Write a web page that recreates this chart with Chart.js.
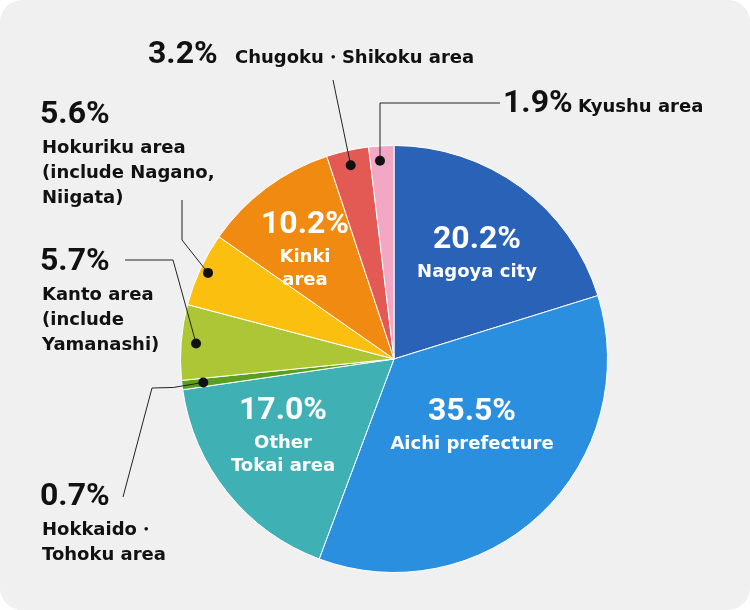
<!DOCTYPE html>
<html>
<head>
<meta charset="utf-8">
<script src="https://cdn.jsdelivr.net/npm/chart.js@4"></script>
<style>
  body { margin: 0; background: #fff; }
  #wrap { width: 750px; height: 610px; background: #f0f0f0; border-radius: 22px; overflow: hidden; }
</style>
</head>
<body>
<div id="wrap"><canvas id="chartPie" width="750" height="610"></canvas></div>
<script>
const areas = ["Nagoya city", "Aichi prefecture", "Other Tokai area", "Hokkaido・Tohoku area",
  "Kanto area", "Hokuriku area", "Kinki area", "Chugoku・Shikoku area", "Kyushu area"];
const shares = [20.2, 35.5, 17.0, 0.7, 5.7, 5.6, 10.2, 3.2, 1.9];
const colors = ["#2a62b8", "#2b8fe0", "#3fb1b5", "#5aa01e", "#adc636", "#fbbf10", "#f08a10", "#e35a55", "#f2a8c4"];

// inside labels: index -> lines, position
const insideLabels = [
  { i: 0, lines: ["Nagoya city"], x: 477, y: 240 },
  { i: 1, lines: ["Aichi prefecture"], x: 472, y: 412 },
  { i: 2, lines: ["Other", "Tokai area"], x: 283, y: 411 },
  { i: 6, lines: ["Kinki", "area"], x: 305, y: 225 },
];
// outside labels with leader lines
const outsideLabels = [
  { i: 7, inline: "Chugoku・Shikoku area", x: 148, y: 55, ix: 235, path: [[333, 80]], rf: 0.93 },
  { i: 8, inline: "Kyushu area", x: 503, y: 104, ix: 578, path: [[500, 103], [380, 103]], rf: 0.93, vert: true },
  { i: 5, lines: ["Hokuriku area", "(include Nagano,", "Niigata)"], x: 40, y: 115, path: [[182, 200], [182, 240]], rf: 0.96 },
  { i: 4, lines: ["Kanto area", "(include", "Yamanashi)"], x: 40, y: 262, path: [[125, 260], [173, 260]], rf: 0.93 },
  { i: 3, lines: ["Hokkaido・", "Tohoku area"], x: 40, y: 497, path: [[123, 497], [152, 388]], rf: 0.9, horiz: true },
];

const PCT_FONT = "700 32px Roboto, sans-serif";
const TXT_FONT = "700 18px 'DejaVu Sans', sans-serif";

const labelPlugin = {
  id: "labels",
  afterDraw(chart) {
    const ctx = chart.ctx;
    const arcs = chart.getDatasetMeta(0).data;
    ctx.save();
    ctx.textBaseline = "middle";
    insideLabels.forEach(l => {
      ctx.fillStyle = "#fff";
      ctx.textAlign = "center";
      ctx.font = PCT_FONT;
      ctx.fillText(shares[l.i].toFixed(1) + "%", l.x, l.y);
      ctx.font = TXT_FONT;
      l.lines.forEach((t, k) => ctx.fillText(t, l.x, l.y + 32 + k * 23));
    });
    outsideLabels.forEach(l => {
      const a = arcs[l.i];
      const mid = (a.startAngle + a.endAngle) / 2;
      let dx = a.x + Math.cos(mid) * a.outerRadius * l.rf;
      let dy = a.y + Math.sin(mid) * a.outerRadius * l.rf;
      const pts = l.path.slice();
      if (l.vert) dx = pts[pts.length - 1][0];
      if (l.horiz) { pts.push([dx - 30, dy + 5]); }
      pts.push([dx, dy]);
      ctx.strokeStyle = "#222";
      ctx.lineWidth = 1;
      ctx.beginPath();
      pts.forEach((p, k) => k ? ctx.lineTo(p[0], p[1]) : ctx.moveTo(p[0], p[1]));
      ctx.stroke();
      ctx.fillStyle = "#111";
      ctx.beginPath();
      ctx.arc(dx, dy, 5, 0, Math.PI * 2);
      ctx.fill();
      ctx.textAlign = "left";
      ctx.font = PCT_FONT;
      ctx.fillText(shares[l.i].toFixed(1) + "%", l.x, l.y);
      ctx.font = TXT_FONT;
      if (l.inline) {
        ctx.fillText(l.inline, l.ix, l.y + 3);
      } else {
        l.lines.forEach((t, k) => ctx.fillText(t, l.x + 2, l.y + 33 + k * 25));
      }
    });
    ctx.restore();
  },
};

const chartPie = document.getElementById("chartPie");
new Chart(chartPie, {
  type: "pie",
  data: {
    labels: areas,
    datasets: [
      {
        data: shares,
        backgroundColor: colors,
        borderColor: "#fff",
        borderWidth: 1,
      },
    ],
  },
  options: {
    responsive: false,
    animation: false,
    layout: { padding: { left: 180, right: 142, top: 145, bottom: 37 } },
    plugins: {
      legend: { display: false },
      tooltip: { enabled: false },
    },
  },
  plugins: [labelPlugin],
});
</script>
</body>
</html>
